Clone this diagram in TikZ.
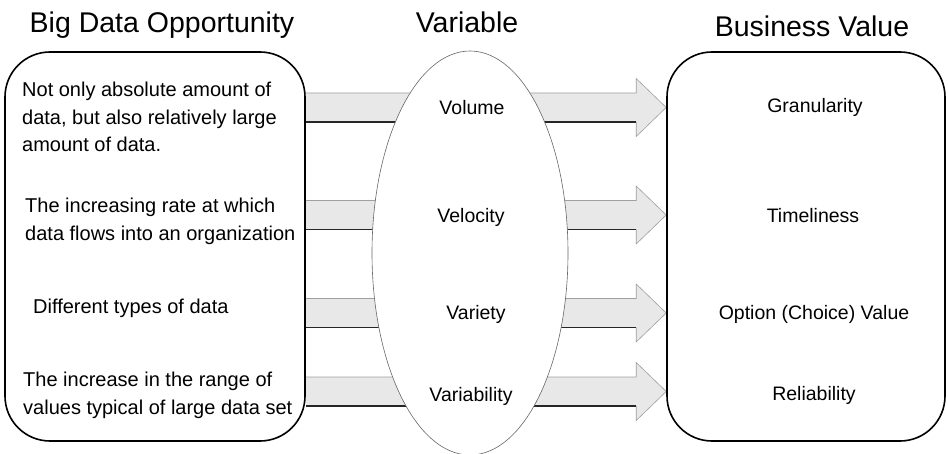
\documentclass[tikz,border=0pt]{standalone}
\usepackage{fontspec}
\setmainfont{Liberation Sans}
\usetikzlibrary{shapes.geometric,calc,positioning}
\pgfdeclarelayer{back}
\pgfsetlayers{back,main}
\tikzset{
  panel/.style={draw=black, line width=1.6pt, rounded corners=45pt, inner sep=0pt},
  varell/.style={ellipse, draw=gray!80!black, line width=0.6pt, fill=white,
                 inner sep=0pt, minimum width=196pt, minimum height=404pt},
  barfill/.style={fill=gray!18},
  baredge/.style={draw=gray!75, line width=0.6pt},
  barline/.style={draw=black!85, line width=1.5pt},
  title/.style={font=\fontsize{28.5}{32}\selectfont, anchor=base, inner sep=0pt},
  desc/.style={font=\fontsize{20}{27.5}\selectfont, align=left, anchor=north west, inner sep=0pt},
  varname/.style={font=\fontsize{19.5}{22}\selectfont, anchor=base, inner sep=0pt},
  valname/.style={font=\fontsize{19.5}{22}\selectfont, anchor=base, inner sep=0pt}
}

\begin{document}
\begin{tikzpicture}[x=1pt, y=-1pt]
\useasboundingbox (0,0) rectangle (948,454);

%% titles
\node[title] (Topp) at (162,33) {Big Data Opportunity};
\node[title] (Tvar) at (467,33) {Variable};
\node[title] (Tval) at (812,37) {Business Value};

%% boxes
\node[panel, minimum width=300pt, minimum height=389pt] (opp) at (155,246.5) {};
\node[panel, minimum width=278pt, minimum height=389pt] (val) at (806,246.5) {};

%% rows
\coordinate (R1) at (470,107.5);
\coordinate (R2) at (470,215);
\coordinate (R3) at (470,313);
\coordinate (R4) at (470,391.5);

%% bars and arrows
\begin{pgfonlayer}{back}
\foreach \i in {1,...,4} {
  \fill[barfill] ($(opp.east |- R\i)+(0,-14.5)$) -- ($(val.west |- R\i)+(-30,-14.5)$)
    -- ($(val.west |- R\i)+(-30,-29)$) -- (val.west |- R\i) -- ($(val.west |- R\i)+(-30,29)$)
    -- ($(val.west |- R\i)+(-30,14.5)$) -- ($(opp.east |- R\i)+(0,14.5)$) -- cycle;
  \draw[baredge] ($(opp.east |- R\i)+(0,-14.5)$) -- ($(val.west |- R\i)+(-30,-14.5)$)
    -- ($(val.west |- R\i)+(-30,-29)$) -- (val.west |- R\i) -- ($(val.west |- R\i)+(-30,29)$)
    -- ($(val.west |- R\i)+(-30,14.5)$);
  \draw[barline] ($(opp.east |- R\i)+(0,14.5)$) -- ($(val.west |- R\i)+(-30,14.5)$);
}
\end{pgfonlayer}

%% variable ellipse
\node[varell] (var) at (470,253) {};

%% opportunity texts
\node[desc] (D1) at (22,82) {Not only absolute amount of\\data, but also relatively large\\amount of data.};
\node[desc] (D2) at (25,198) {The increasing rate at which\\data flows into an organization};
\node[desc] (D3) at (33,299) {Different types of data};
\node[desc] (D4) at (23,372) {The increase in the range of\\values typical of large data set};

%% variables
\node[varname] (V1) at (472,115) {Volume};
\node[varname] (V2) at (471,223) {Velocity};
\node[varname] (V3) at (476,320) {Variety};
\node[varname] (V4) at (471,401) {Variability};

%% values
\node[valname] (B1) at (815,113) {Granularity};
\node[valname] (B2) at (813,223) {Timeliness};
\node[valname] (B3) at (814,320) {Option (Choice) Value};
\node[valname] (B4) at (814,400) {Reliability};

\end{tikzpicture}
\end{document}
